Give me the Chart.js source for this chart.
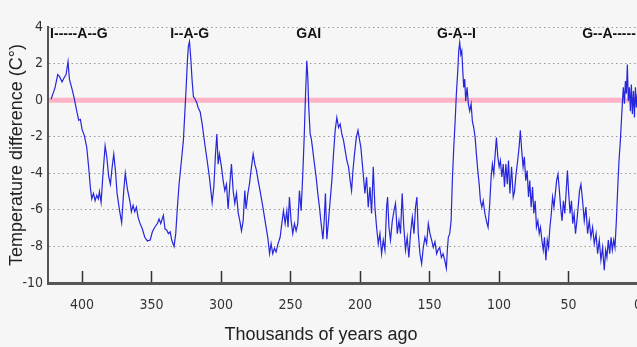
<!DOCTYPE html>
<html>
<head>
<meta charset="utf-8">
<script src="https://cdn.jsdelivr.net/npm/chart.js@4.4.1/dist/chart.umd.min.js"></script>
<style>
  html, body { margin: 0; padding: 0; overflow: hidden; background: #f6f6f6; }
  canvas { display: block; }
</style>
</head>
<body>
<canvas id="vostok" width="680" height="347"></canvas>
<script>
// Vostok temperature difference, thousands of years ago
const ages = [
  422.3, 420.7, 419.4, 417.5, 416.3, 414.4, 412.7, 411.5, 410.1, 409.1,
  407.2, 405.5, 403.8, 402.4, 401.2, 400.0, 398.3, 396.6, 395.2, 394.0,
  393.0, 391.8, 390.6, 389.4, 388.3, 387.5, 386.3, 385.1, 383.4, 382.2,
  380.8, 379.6, 378.4, 377.2, 376.0, 374.8, 373.1, 371.5, 370.0, 368.9,
  367.4, 365.4, 364.5, 363.3, 362.1, 360.9, 359.7, 358.5, 356.6, 354.9,
  353.0, 351.0, 349.4, 347.7, 345.8, 344.6, 343.4, 341.5, 340.3, 339.1,
  337.9, 336.6, 335.5, 333.8, 332.6, 331.4, 330.2, 328.5, 327.1, 326.1,
  325.1, 324.2, 323.5, 322.7, 321.8, 320.8, 319.9, 318.6, 317.4, 316.5,
  315.0, 313.6, 311.7, 310.0, 308.4, 306.4, 305.2, 304.0, 303.0, 302.1,
  301.2, 299.7, 298.5, 297.3, 296.1, 294.9, 293.5, 292.5, 291.3, 290.1,
  288.9, 287.7, 286.5, 285.3, 284.1, 282.9, 282.0, 280.7, 279.6, 278.1,
  276.9, 275.7, 274.5, 273.3, 271.6, 269.9, 268.0, 266.4, 265.1, 264.0,
  262.8, 261.6, 260.4, 259.0, 257.5, 256.3, 255.1, 253.9, 252.7, 251.8,
  250.8, 249.6, 248.4, 247.2, 246.0, 244.8, 243.6, 242.4, 241.2, 240.2,
  239.3, 238.3, 237.6, 236.9, 235.9, 235.0, 234.0, 232.8, 231.6, 230.4,
  229.2, 228.0, 226.7, 225.8, 224.9, 223.9, 222.7, 221.5, 220.3, 219.1,
  217.9, 216.7, 215.5, 214.3, 213.1, 211.9, 210.7, 209.5, 208.3, 207.1,
  206.1, 205.1, 204.0, 202.7, 201.5, 200.3, 199.4, 197.7, 196.5, 195.3,
  194.1, 192.9, 191.7, 190.5, 189.3, 188.1, 186.9, 185.7, 184.5, 183.3,
  182.1, 180.9, 180.2, 179.2, 178.1, 176.8, 175.6, 174.5, 173.2, 172.0,
  170.9, 169.7, 168.5, 167.3, 166.1, 164.9, 163.7, 162.4, 161.2, 160.1,
  159.1, 158.1, 156.9, 155.7, 154.5, 153.3, 152.1, 150.9, 149.7, 148.5,
  147.3, 146.1, 144.9, 143.9, 142.7, 141.5, 140.3, 139.1, 137.9, 137.2,
  136.5, 135.5, 134.5, 133.6, 132.6, 131.6, 130.7, 129.7, 129.0, 128.3,
  127.5, 126.8, 126.1, 125.4, 124.7, 124.0, 123.0, 122.1, 121.1, 120.1,
  119.2, 118.2, 117.2, 116.3, 115.3, 114.3, 113.4, 112.4, 111.4, 110.2,
  109.1, 107.9, 106.7, 105.7, 104.8, 103.8, 102.8, 101.9, 100.9, 99.9,
  99.0, 98.0, 97.0, 96.1, 95.1, 94.1, 93.2, 92.2, 91.0, 89.8,
  88.9, 87.8, 86.6, 85.6, 84.7, 83.7, 82.7, 81.8, 80.8, 79.8,
  78.8, 77.9, 76.9, 75.9, 75.0, 74.0, 73.1, 72.1, 71.1, 70.2,
  69.2, 68.2, 67.3, 66.3, 65.3, 64.4, 63.4, 62.4, 61.5, 60.5,
  59.5, 58.6, 57.6, 56.6, 55.7, 54.7, 53.7, 52.7, 51.8, 50.8,
  49.9, 48.9, 47.9, 47.0, 46.0, 45.0, 44.0, 43.1, 42.1, 41.1,
  39.9, 38.7, 37.5, 36.3, 35.1, 33.9, 32.7, 31.5, 30.2, 29.1,
  27.9, 26.7, 25.5, 24.3, 23.3, 22.4, 21.4, 20.4, 19.4, 18.5,
  17.5, 16.6, 15.6, 14.6, 13.7, 12.7, 12.0, 11.3, 10.6, 9.8,
  9.1, 8.4, 7.7, 7.0, 6.2, 5.5, 4.8, 4.1, 3.3, 2.6,
  1.9, 1.2, 0.5
];
const temps = [
  0.05, 0.4, 0.7, 1.4, 1.3, 1.0, 1.25, 1.4, 2.1, 1.15,
  0.6, 0.05, -0.6, -1.1, -1.05, -1.6, -1.95, -2.6, -3.7, -4.8,
  -5.4, -5.1, -5.5, -5.2, -5.4, -5.0, -5.6, -4.2, -2.5, -3.1,
  -4.2, -4.6, -3.7, -2.95, -3.85, -5.1, -6.0, -6.7, -4.95, -4.0,
  -4.85, -5.6, -6.1, -5.75, -6.1, -5.85, -6.4, -6.7, -7.05, -7.5,
  -7.7, -7.65, -7.2, -6.95, -6.75, -6.5, -6.75, -6.3, -7.05, -7.1,
  -7.3, -7.2, -7.65, -8.0, -7.3, -5.85, -4.6, -3.3, -2.2, -0.75,
  0.7, 2.15, 2.95, 3.2, 2.3, 1.05, 0.2, 0.05, -0.15, -0.4,
  -0.65, -1.3, -2.4, -3.3, -4.2, -5.6, -4.75, -2.95, -1.85, -3.5,
  -2.95, -3.65, -4.4, -4.95, -4.6, -5.95, -4.4, -3.5, -4.95, -5.65,
  -5.1, -6.15, -6.6, -7.15, -6.6, -4.95, -5.95, -5.1, -4.6, -3.65,
  -2.95, -3.5, -3.85, -4.4, -5.1, -5.85, -6.75, -7.5, -8.4, -7.85,
  -8.4, -8.1, -8.3, -7.85, -7.5, -6.75, -6.05, -6.75, -6.05, -6.95,
  -5.3, -6.6, -7.3, -6.75, -7.15, -6.75, -4.95, -6.05, -4.05, -2.05,
  0.15, 2.15, 1.25, -0.4, -1.85, -2.15, -2.75, -3.5, -4.2, -5.1,
  -5.85, -6.75, -7.6, -6.6, -5.1, -7.6, -6.6, -5.5, -4.4, -2.95,
  -1.65, -0.95, -1.5, -1.3, -1.85, -2.2, -2.75, -3.3, -3.65, -4.4,
  -4.95, -3.85, -2.95, -2.05, -1.65, -2.2, -2.6, -4.05, -5.1, -4.2,
  -5.85, -4.75, -6.2, -3.65, -5.85, -6.95, -7.85, -7.3, -8.4, -7.65,
  -8.2, -5.85, -5.3, -6.95, -7.65, -6.6, -6.05, -5.65, -7.3, -6.6,
  -7.3, -5.1, -6.95, -8.2, -7.5, -8.6, -7.3, -6.4, -7.3, -5.85,
  -5.3, -7.3, -8.4, -8.95, -8.05, -7.5, -7.85, -6.75, -7.3, -7.65,
  -8.05, -7.75, -8.4, -8.2, -8.05, -8.6, -8.4, -8.75, -9.2, -8.2,
  -7.5, -7.3, -6.6, -4.4, -2.6, -1.15, 0.35, 1.6, 2.7, 3.15,
  2.5, 2.7, 1.6, 0.7, 1.15, -0.05, 0.7, -0.2, -0.6, -0.2,
  -1.15, -1.5, -2.05, -2.95, -3.85, -4.6, -5.5, -5.85, -5.5, -6.2,
  -6.6, -6.95, -5.65, -4.2, -3.5, -4.05, -2.95, -2.05, -3.1, -3.65,
  -3.3, -4.2, -3.5, -4.75, -3.5, -4.6, -3.3, -5.1, -3.65, -5.3,
  -5.0, -4.05, -3.3, -2.6, -1.65, -2.75, -3.65, -3.1, -4.4, -3.85,
  -5.3, -4.4, -5.85, -4.75, -6.2, -5.5, -6.95, -6.6, -7.3, -6.95,
  -7.65, -8.2, -7.5, -8.75, -7.65, -8.05, -6.95, -6.2, -5.3, -5.85,
  -5.1, -4.4, -4.05, -4.95, -5.85, -6.6, -5.5, -6.2, -5.1, -3.85,
  -5.1, -6.2, -5.5, -6.75, -6.2, -7.3, -6.6, -5.85, -4.95, -4.6,
  -5.5, -6.6, -5.85, -7.3, -6.6, -7.5, -6.95, -7.85, -7.3, -8.4,
  -7.65, -8.75, -8.05, -9.3, -8.2, -8.6, -7.65, -8.4, -7.5, -8.2,
  -7.65, -8.05, -6.6, -4.75, -3.3, -2.2, -1.15, -0.2, 0.7, -0.2,
  1.05, 0.35, 1.95, -0.05, 0.7, -0.6, 0.85, -0.75, 0.5, -0.95,
  0.7, -0.4, 0.35
];
const xTicks = [0, 50, 100, 150, 200, 250, 300, 350, 400];
const yTicks = [-10, -8, -6, -4, -2, 0, 2, 4];
const refLevel = 0;

// sequence labels across the top of the plot
const phaseLabels = ['I-----A--G', 'I--A-G', 'GAI', 'G-A--I', 'G--A-----'];
const phaseAges = [423, 336.6, 245.9, 144.6, 40.2];

const narrowFont = '"Liberation Sans Narrow", "DejaVu Sans Condensed", "Liberation Sans", sans-serif';
const textFont = '"Liberation Sans", Arial, sans-serif';

const zeroLine = {
    id: 'zeroLine',
    beforeDatasetsDraw(chart) {
        const { ctx, chartArea, scales } = chart;
        const py = scales.y.getPixelForValue(refLevel);
        ctx.save();
        ctx.strokeStyle = '#ffb3c7';
        ctx.lineWidth = 5;
        ctx.beginPath();
        ctx.moveTo(chartArea.left + 1, py);
        ctx.lineTo(chartArea.right, py);
        ctx.stroke();
        ctx.restore();
    }
};

const phaseText = {
    id: 'phaseText',
    afterDatasetsDraw(chart) {
        const { ctx, chartArea, scales } = chart;
        ctx.save();
        ctx.font = 'bold 14px ' + textFont;
        ctx.fillStyle = '#111';
        ctx.textAlign = 'left';
        ctx.textBaseline = 'alphabetic';
        phaseLabels.forEach((txt, i) => {
            ctx.fillText(txt, scales.x.getPixelForValue(phaseAges[i]), chartArea.top + 10.5);
        });
        ctx.restore();
    }
};

const xTitle = {
    id: 'xTitle',
    afterDraw(chart) {
        const ctx = chart.ctx;
        ctx.save();
        ctx.font = '18px ' + textFont;
        ctx.fillStyle = '#222';
        ctx.textAlign = 'center';
        ctx.textBaseline = 'alphabetic';
        ctx.fillText('Thousands of years ago', 321, 340);
        ctx.restore();
    }
};

const ctx = document.getElementById('vostok').getContext('2d');
new Chart(ctx, {
    type: 'line',
    data: {
        datasets: [{
            data: ages.map((a, i) => ({ x: a, y: temps[i] })),
            borderColor: '#2626dc',
            borderWidth: 1.2,
            pointRadius: 0,
            tension: 0,
            fill: false
        }]
    },
    options: {
        responsive: false,
        animation: false,
        layout: { padding: { top: 27, right: 35, left: 0, bottom: 0 } },
        plugins: {
            legend: { display: false },
            tooltip: { enabled: false }
        },
        scales: {
            x: {
                type: 'linear',
                reverse: true,
                min: -5,
                max: 424.5,
                afterBuildTicks: s => { s.ticks = xTicks.map(v => ({ value: v })); },
                afterFit: s => { s.height = 64; s.paddingLeft = 0; s.paddingRight = 0; },
                grid: { drawOnChartArea: false, drawTicks: true, tickLength: -12, tickColor: '#333', tickWidth: 1.5 },
                border: { color: '#555', width: 3 },
                ticks: { padding: 26, color: '#333', font: { family: narrowFont, size: 14 } }
            },
            y: {
                min: -10,
                max: 4,
                afterBuildTicks: s => { s.ticks = yTicks.map(v => ({ value: v })); },
                afterFit: s => { s.width = 48; s.paddingTop = 0; s.paddingBottom = 0; },
                grid: { color: '#999', drawTicks: false, lineWidth: 1 },
                border: { color: '#555', width: 2, dash: [1.5, 3] },
                ticks: { padding: 5, color: '#333', font: { family: narrowFont, size: 14 } },
                title: {
                    display: true,
                    text: 'Temperature difference (C°)',
                    color: '#222',
                    font: { family: textFont, size: 18 },
                    padding: { top: 6, bottom: 0 }
                }
            }
        }
    },
    plugins: [zeroLine, phaseText, xTitle]
});
</script>
</body>
</html>
